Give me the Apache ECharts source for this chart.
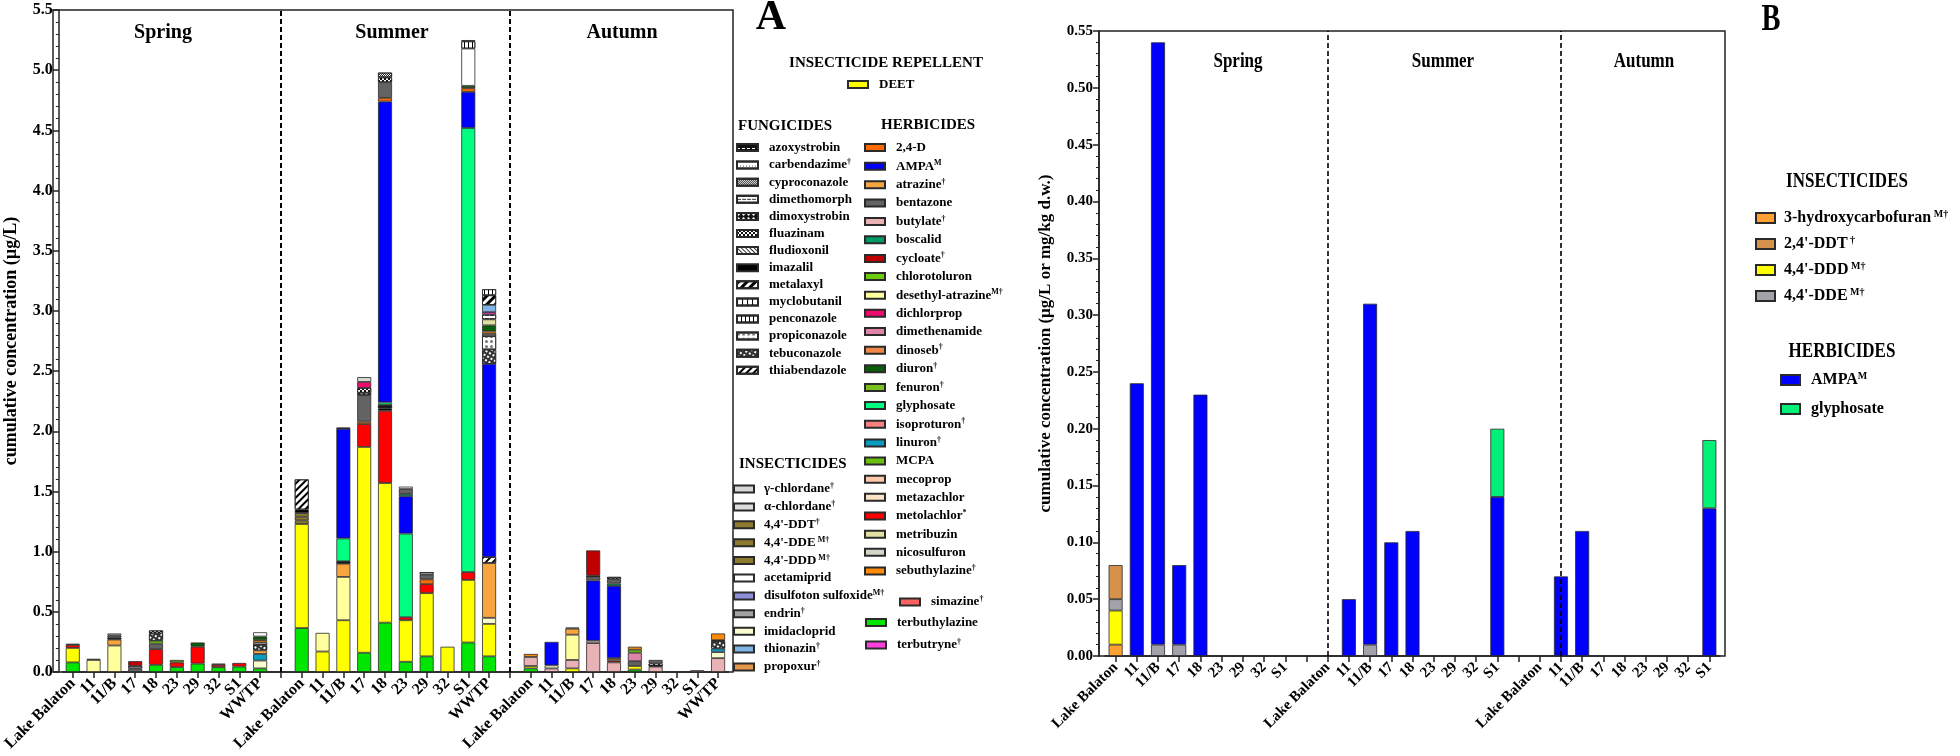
<!DOCTYPE html>
<html><head><meta charset="utf-8">
<script src="https://cdn.jsdelivr.net/npm/echarts/dist/echarts.min.js"></script>
<style>html,body{margin:0;padding:0;background:#fff}#c{width:1960px;height:756px}</style>
</head><body><div id="c"></div>
<script>
const FONT = '"Liberation Serif", "Times New Roman", serif';

// ---------- Panel A data (30 values: spring 10 | summer 10 | autumn 10) ----------
const sitesA = ['Lake Balaton','11','11/B','17','18','23','29','32','S1','WWTP'];
const terbuthylazine = [0.08,0,0,0,0.06,0.04,0.07,0.04,0.045,0.03, 0.365,0,0,0.16,0.41,0.085,0.13,0,0.245,0.13, 0.03,0,0,0,0,0.02,0,0,0,0];
const deet = [0.12,0,0,0,0,0,0,0,0,0, 0.865,0.17,0.43,1.71,1.16,0.345,0.525,0.21,0.52,0.27, 0.02,0,0.03,0,0,0.03,0,0,0,0];
const butylate = [0,0,0,0,0,0,0,0,0,0, 0,0,0,0,0,0,0,0,0,0, 0.075,0.03,0.07,0.24,0.08,0,0.045,0,0.015,0.115];
const desethylAtrazine = [0,0.10,0.22,0,0,0,0,0,0,0, 0,0.155,0.36,0,0,0,0,0,0,0, 0,0,0.21,0,0,0,0,0,0,0];
const imidacloprid = [0,0,0,0,0,0,0,0,0,0.065, 0,0,0,0,0,0,0,0,0,0.05, 0,0.025,0,0,0,0,0,0,0,0.05];
const linuron = [0,0,0,0,0,0,0,0,0,0.055, 0,0,0,0,0,0,0,0,0,0, 0,0,0,0,0,0,0,0,0,0.03];
const metolachlor = [0.025,0,0,0,0.13,0.04,0.14,0.02,0.03,0, 0,0,0,0.19,0.60,0.025,0.075,0,0.065,0, 0,0,0,0,0.015,0,0,0,0,0];
const atrazine = [0,0,0.05,0,0,0,0,0,0,0.03, 0,0,0.11,0,0,0,0,0,0,0.455, 0,0,0.05,0,0,0,0,0,0,0];
const metazachlor = [0,0,0,0,0,0,0,0,0,0, 0,0,0,0,0,0,0,0,0,0, 0,0,0.01,0.02,0,0,0,0,0,0];
const ddd44 = [0,0,0,0,0,0,0,0,0,0, 0.03,0,0,0,0,0,0,0,0,0, 0,0,0,0,0.02,0,0,0,0,0];
const dde44 = [0,0,0,0,0,0,0,0,0,0, 0.03,0,0,0,0,0,0,0,0,0, 0,0,0,0,0,0,0,0,0,0];
const ddt44 = [0,0,0,0,0,0,0,0,0,0, 0.03,0,0,0,0,0,0,0,0,0, 0,0,0,0,0,0,0,0,0,0];
const imazalil = [0,0,0,0,0,0,0,0,0,0, 0.03,0,0,0,0.02,0,0,0,0,0, 0,0,0,0,0,0,0,0,0,0];
const azoxystrobin = [0,0,0.015,0,0,0,0,0,0,0, 0,0,0.02,0,0.03,0,0,0,0,0, 0,0,0,0,0,0,0.025,0,0,0];
const thiabendazole = [0,0,0,0,0,0,0,0,0,0, 0.25,0,0,0,0,0,0,0,0,0.05, 0,0,0,0,0,0,0,0,0,0];
const glyphosate = [0,0,0,0,0,0,0,0,0,0, 0,0,0.19,0,0.02,0.695,0,0,3.69,0, 0,0,0,0,0,0,0,0,0,0];
const ampa = [0,0,0,0,0,0,0,0,0,0, 0,0,0.91,0,2.50,0.31,0,0,0.30,1.605, 0,0.195,0,0.50,0.60,0,0,0,0,0];
const boscalid = [0,0,0,0,0,0,0,0,0,0, 0,0,0,0,0,0.02,0,0,0,0, 0,0,0,0,0.02,0,0,0,0,0];
const d24 = [0,0,0,0,0,0,0,0,0,0, 0,0,0,0.02,0.03,0,0.04,0,0.03,0, 0,0,0,0,0,0,0,0,0,0];
const bentazone = [0,0,0.02,0.03,0.045,0,0,0.01,0,0, 0,0,0,0.22,0.13,0.04,0.04,0,0,0, 0,0,0,0.03,0.035,0.04,0.03,0,0,0];
const dimethenamide = [0,0,0,0,0,0,0,0,0,0, 0,0,0,0,0,0,0,0,0,0, 0,0,0,0,0,0.07,0,0,0,0];
const chlorotoluron = [0.01,0,0,0,0.025,0.02,0,0,0,0, 0,0,0,0,0,0,0,0,0,0, 0,0,0,0,0,0.025,0,0,0,0];
const tebuconazole = [0,0,0,0,0.06,0,0,0,0,0.045, 0,0,0,0,0,0,0,0,0,0.12, 0,0,0,0,0,0,0,0,0,0.06];
const propiconazole = [0,0,0,0,0,0,0,0,0,0.02, 0,0,0,0,0,0,0,0,0,0.11, 0,0,0,0,0,0,0,0,0,0.01];
const carbendazime = [0,0,0,0.02,0,0,0,0,0,0, 0,0,0.01,0,0,0,0.02,0,0,0.02, 0,0,0,0,0,0,0,0,0,0];
const dimoxystrobin = [0,0,0,0,0,0,0,0,0,0, 0,0,0,0.02,0,0,0,0,0,0, 0,0,0,0,0,0,0,0,0,0];
const fluazinam = [0,0,0,0,0.025,0,0,0,0,0, 0,0,0,0.04,0.04,0,0,0,0,0, 0,0,0,0.01,0.02,0,0,0,0,0];
const cyproconazole = [0,0,0,0,0,0,0,0,0,0, 0,0,0,0,0.04,0,0,0,0,0, 0,0,0,0,0,0,0,0,0,0];
const dichlorprop = [0,0,0,0,0,0,0,0,0,0, 0,0,0,0.05,0,0,0,0,0,0, 0,0,0,0,0,0,0,0,0,0];
const nicosulfuron = [0,0.01,0,0,0,0,0,0,0,0, 0,0,0,0.04,0,0,0,0,0,0, 0,0,0,0,0,0,0,0,0,0];
const sebuthylazine = [0,0,0,0,0,0,0,0,0,0.02, 0,0,0,0,0,0,0,0,0,0.02, 0.025,0,0,0,0,0.025,0,0,0,0.055];
const diuron = [0,0,0,0,0,0,0.035,0,0,0.03, 0,0,0,0,0,0,0,0,0.02,0.05, 0,0,0,0,0,0,0,0,0,0];
const metribuzin = [0,0,0,0,0,0,0,0,0,0, 0,0,0,0,0,0,0,0,0,0.05, 0,0,0,0,0,0,0,0,0,0];
const dimethomorph = [0,0,0,0,0,0,0,0,0,0, 0,0,0,0,0,0,0,0,0,0.04, 0,0,0,0,0,0,0,0,0,0];
const terbutryne = [0,0,0,0,0,0,0,0,0,0, 0,0,0,0,0,0,0,0,0,0.02, 0,0,0,0,0,0,0,0,0,0];
const thionazin = [0,0,0,0,0,0,0,0,0,0, 0,0,0,0,0,0,0,0,0,0.06, 0,0,0,0,0,0,0,0,0,0];
const acetamiprid = [0,0,0.015,0,0,0,0,0,0,0.035, 0,0,0,0,0,0.02,0,0,0.31,0, 0,0,0,0,0,0,0,0,0,0];
const metalaxyl = [0,0,0,0,0,0,0,0,0,0, 0,0,0,0,0,0,0,0,0,0.08, 0,0,0,0,0,0,0,0,0,0];
const penconazole = [0,0,0,0,0,0,0,0,0,0, 0,0,0,0,0,0,0,0,0.06,0.05, 0,0,0,0,0,0,0,0,0,0];
const cycloate = [0,0,0,0.04,0,0,0,0,0,0, 0,0,0,0,0,0,0,0,0.01,0, 0,0,0,0.21,0,0,0,0,0,0];
// compounds listed in the legend but not drawn in any bar
const notDetected = [];

// ---------- Panel B data (27 values: spring 9 | summer 9 | autumn 9) ----------
const sitesB = ['Lake Balaton','11','11/B','17','18','23','29','32','S1'];
const hydroxycarbofuranB = [0.01,0,0,0,0,0,0,0,0, 0,0,0,0,0,0,0,0,0, 0,0,0,0,0,0,0,0,0];
const ddd44B = [0.03,0,0,0,0,0,0,0,0, 0,0,0,0,0,0,0,0,0, 0,0,0,0,0,0,0,0,0];
const dde44B = [0.01,0,0.01,0.01,0,0,0,0,0, 0,0,0.01,0,0,0,0,0,0, 0,0,0,0,0,0,0,0,0];
const ddt24B = [0.03,0,0,0,0,0,0,0,0, 0,0,0,0,0,0,0,0,0, 0,0,0,0,0,0,0,0,0];
const ampaB = [0,0.24,0.53,0.07,0.23,0,0,0,0, 0,0.05,0.30,0.10,0.11,0,0,0,0.14, 0,0.07,0.11,0,0,0,0,0,0.13];
const glyphosateB = [0,0,0,0,0,0,0,0,0, 0,0,0,0,0,0,0,0,0.06, 0,0,0,0,0,0,0,0,0.06];

// tick labels / legend groups
const yTicksA = {min: 0, max: 5.5, step: 0.5};
const yTicksB = {min: 0, max: 0.55, step: 0.05};
const fungicideNames = ['azoxystrobin','carbendazime','cyproconazole','dimethomorph','dimoxystrobin','fluazinam','fludioxonil','imazalil','metalaxyl','myclobutanil','penconazole','propiconazole','tebuconazole','thiabendazole'];
const herbicideNames1 = ['2,4-D','AMPA','atrazine','bentazone','butylate','boscalid','cycloate','chlorotoluron','desethyl-atrazine','dichlorprop','dimethenamide','dinoseb','diuron','fenuron','glyphosate','isoproturon','linuron','MCPA','mecoprop','metazachlor','metolachlor','metribuzin','nicosulfuron','sebuthylazine'];
const herbicideNames2 = ['simazine'];
const herbicideNames3 = ['terbuthylazine','terbutryne'];
const insecticideNamesA = ['γ-chlordane','α-chlordane',"4,4'-DDT","4,4'-DDE","4,4'-DDD",'acetamiprid','disulfoton sulfoxide','endrin','imidacloprid','thionazin','propoxur'];
const insecticideNamesB = ['B:3-hydroxycarbofuran',"B:2,4'-DDT","B:4,4'-DDD","B:4,4'-DDE"];
const herbicideNamesB = ['B:AMPA','B:glyphosate'];
const supText = {
  'carbendazime':'†','AMPA':'M','atrazine':'†','butylate':'†','cycloate':'†','desethyl-atrazine':'M†',
  'dinoseb':'†','diuron':'†','fenuron':'†','isoproturon':'†','linuron':'†','metolachlor':'*',
  'sebuthylazine':'†','simazine':'†','terbutryne':'†','γ-chlordane':'†','α-chlordane':'†',
  "4,4'-DDT":'†',"4,4'-DDE":' M†',"4,4'-DDD":' M†','disulfoton sulfoxide':'M†','endrin':'†',
  'thionazin':'†','propoxur':'†','3-hydroxycarbofuran':' M†',"2,4'-DDT":' †'
};

// ---------- stacking order (bottom -> top) ----------
const stackA = [
  ['terbuthylazine', terbuthylazine], ['DEET', deet], ['butylate', butylate], ['desethyl-atrazine', desethylAtrazine],
  ['imidacloprid', imidacloprid], ['linuron', linuron], ['metolachlor', metolachlor], ['atrazine', atrazine],
  ['metazachlor', metazachlor], ["4,4'-DDD", ddd44], ["4,4'-DDE", dde44], ["4,4'-DDT", ddt44], ['imazalil', imazalil],
  ['azoxystrobin', azoxystrobin], ['thiabendazole', thiabendazole], ['glyphosate', glyphosate], ['AMPA', ampa],
  ['boscalid', boscalid], ['2,4-D', d24], ['bentazone', bentazone], ['dimethenamide', dimethenamide],
  ['chlorotoluron', chlorotoluron], ['tebuconazole', tebuconazole], ['propiconazole', propiconazole],
  ['carbendazime', carbendazime], ['dimoxystrobin', dimoxystrobin], ['fluazinam', fluazinam],
  ['cyproconazole', cyproconazole], ['dichlorprop', dichlorprop], ['nicosulfuron', nicosulfuron],
  ['sebuthylazine', sebuthylazine], ['diuron', diuron], ['metribuzin', metribuzin], ['dimethomorph', dimethomorph],
  ['terbutryne', terbutryne], ['thionazin', thionazin], ['acetamiprid', acetamiprid], ['metalaxyl', metalaxyl],
  ['penconazole', penconazole], ['cycloate', cycloate],
  ['fludioxonil', notDetected], ['myclobutanil', notDetected], ['dinoseb', notDetected], ['fenuron', notDetected],
  ['isoproturon', notDetected], ['MCPA', notDetected], ['mecoprop', notDetected], ['simazine', notDetected],
  ['γ-chlordane', notDetected], ['α-chlordane', notDetected], ['disulfoton sulfoxide', notDetected],
  ['endrin', notDetected], ['propoxur', notDetected]
];
const stackB = [
  ['B:3-hydroxycarbofuran', hydroxycarbofuranB], ["B:4,4'-DDD", ddd44B], ["B:4,4'-DDE", dde44B],
  ["B:2,4'-DDT", ddt24B], ['B:AMPA', ampaB], ['B:glyphosate', glyphosateB]
];

// ---------- styles ----------
const P = Math.PI;
const styleA = {
  'terbuthylazine':{c:'#00E600'}, 'DEET':{c:'#FFFF00'}, 'butylate':{c:'#E9B3B6'}, 'desethyl-atrazine':{c:'#FFFF9E'},
  'imidacloprid':{c:'#F8FCCF'}, 'linuron':{c:'#0A9CC0'}, 'metolachlor':{c:'#FF0000'}, 'atrazine':{c:'#F8A540'},
  'metazachlor':{c:'#FBE3C8'}, "4,4'-DDD":{c:'#8E7B2E'}, "4,4'-DDE":{c:'#8E7B2E'}, "4,4'-DDT":{c:'#8E7B2E'},
  'imazalil':{c:'#000000'}, 'glyphosate':{c:'#00FF80'}, 'AMPA':{c:'#0000FF'}, 'boscalid':{c:'#00996A'},
  '2,4-D':{c:'#FF6A00'}, 'bentazone':{c:'#636363'}, 'dimethenamide':{c:'#E083A8'}, 'chlorotoluron':{c:'#6CCB0A'},
  'dichlorprop':{c:'#EE0A6E'}, 'nicosulfuron':{c:'#D4D6C8'}, 'sebuthylazine':{c:'#FF8A0A'}, 'diuron':{c:'#0A5E0A'},
  'metribuzin':{c:'#E2E0A2'}, 'terbutryne':{c:'#FF40E0'}, 'thionazin':{c:'#80B4E4'}, 'acetamiprid':{c:'#FFFFFF'},
  'cycloate':{c:'#C00000'}, 'dinoseb':{c:'#F08848'}, 'fenuron':{c:'#7CC020'}, 'isoproturon':{c:'#F88080'},
  'MCPA':{c:'#6AC010'}, 'mecoprop':{c:'#FFC8A8'}, 'simazine':{c:'#FF6060'},
  'γ-chlordane':{c:'#D6D6D6'}, 'α-chlordane':{c:'#DCDCDC'}, 'disulfoton sulfoxide':{c:'#8E8EDA'},
  'endrin':{c:'#A2A2A2'}, 'propoxur':{c:'#E4964A'},
  'azoxystrobin':{c:'#111', d:{color:'#fff', dashArrayX:[[3,2]], dashArrayY:[1,3]}},
  'carbendazime':{c:'#fff', d:{color:'#666', dashArrayX:[[1,2]], dashArrayY:[1,3]}},
  'cyproconazole':{c:'#fff', d:{color:'#222', dashArrayX:[[1,1],[0,1,1,0]], dashArrayY:[1,0]}},
  'dimethomorph':{c:'#fff', d:{color:'#333', dashArrayX:[[4,1]], dashArrayY:[1,2]}},
  'dimoxystrobin':{c:'#111', d:{color:'#fff', symbol:'diamond', dashArrayX:[[3,2]], dashArrayY:[3,1]}},
  'fluazinam':{c:'#fff', d:{color:'#111', dashArrayX:[[2,2],[0,2,2,0]], dashArrayY:[2,0]}},
  'fludioxonil':{c:'#fff', d:{color:'#333', dashArrayX:[[1,0]], dashArrayY:[1,2], rotation:P/4}},
  'metalaxyl':{c:'#fff', d:{color:'#000', dashArrayX:[[1,0]], dashArrayY:[3,3], rotation:-P/4}},
  'myclobutanil':{c:'#fff', d:{color:'#000', dashArrayX:[[1,4]], dashArrayY:[10,0]}},
  'penconazole':{c:'#fff', d:{color:'#000', dashArrayX:[[1,3]], dashArrayY:[10,0]}},
  'propiconazole':{c:'#fff', d:{color:'#777', symbol:'circle', dashArrayX:[[3,2]], dashArrayY:[3,2]}},
  'tebuconazole':{c:'#333', d:{color:'#fff', dashArrayX:[[2,2]], dashArrayY:[2,2], rotation:P/6}},
  'thiabendazole':{c:'#fff', d:{color:'#000', dashArrayX:[[1,0]], dashArrayY:[2,3], rotation:-P/4}}
};
const styleB = {
  'B:3-hydroxycarbofuran':'#FFA030', "B:2,4'-DDT":'#D6914A', "B:4,4'-DDD":'#FFFF00',
  "B:4,4'-DDE":'#A2A2AA', 'B:AMPA':'#0000FF', 'B:glyphosate':'#00F078'
};

// ---------- build ----------
function withGapsA(arr){ const v = arr.map(x => x ? x : null); return [...v.slice(0,10), null, ...v.slice(10,20), null, ...v.slice(20,30)]; }
function withGapsB(arr){ const v = arr.map(x => x ? x : null); return [...v.slice(0,9), null, ...v.slice(9,18), null, ...v.slice(18,27)]; }
const catsA = [...sitesA, '', ...sitesA, '', ...sitesA];
const catsB = [...sitesB, '', ...sitesB, '', ...sitesB];

const series = [];
stackA.forEach(([name, arr], i) => {
  const st = styleA[name] || {c:'#ccc'};
  const s = {
    name, type:'bar', stack:'A', xAxisIndex:0, yAxisIndex:0, barWidth:14,
    data: arr.length ? withGapsA(arr) : [],
    itemStyle:{color:st.c, borderColor:'#2a2a2a', borderWidth:0.8},
    emphasis:{disabled:true}
  };
  if (st.d) s.itemStyle.decal = Object.assign({symbol:'rect', symbolSize:1, symbolKeepAspect:false}, st.d);
  if (i === 0) s.markLine = {silent:true, symbol:['none','none'], label:{show:false},
    lineStyle:{type:[5,3], color:'#000', width:2}, data:[{xAxis:10},{xAxis:21}]};
  series.push(s);
});
stackB.forEach(([name, arr]) => {
  const s = {
    name, type:'bar', stack:'B', xAxisIndex:2, yAxisIndex:2, barWidth:14,
    data: withGapsB(arr),
    itemStyle:{color:styleB[name], borderColor:'#2a2a2a', borderWidth:0.8},
    emphasis:{disabled:true}
  };
  if (name === 'B:AMPA') s.markLine = {silent:true, symbol:['none','none'], label:{show:false},
    lineStyle:{type:[5,3], color:'#000', width:1.6}, data:[{xAxis:10},{xAxis:21}]};
  series.push(s);
});

function fmt(name){
  const base = name.replace(/^B:/,'');
  const s = supText[base];
  return '{n|' + base + '}' + (s ? '{s|' + s + '}' : '');
}
function mkLegend(names, left, top, gap, fs, lh, iw, ih, pad){
  return {
    data:names, orient:'vertical', left, top, padding:0, itemGap:gap, itemWidth:iw, itemHeight:ih,
    icon:'rect', selectedMode:false, formatter:fmt,
    textStyle:{rich:{
      n:{fontSize:fs, fontWeight:'bold', fontFamily:FONT, lineHeight:lh, color:'#000', padding:[0,0,0,pad]},
      s:{fontSize:Math.round(fs*0.62), fontWeight:'bold', fontFamily:FONT, lineHeight:Math.round(fs*0.7), verticalAlign:'top', color:'#000'}
    }}
  };
}
function txt(t, x, y, size, align, sx){
  return {type:'text', x, y, scaleX: sx || 1, silent:true, style:{text:t, font:'bold ' + size + 'px ' + FONT,
    fill:'#000', textAlign: align || 'center', textVerticalAlign:'middle'}};
}

const axisLine = {show:true, lineStyle:{color:'#222', width:1.5}};
const option = {
  animation:false,
  backgroundColor:'#fff',
  grid:[
    {left:56.5, top:10, width:672, height:662},
    {left:53, top:10, width:680, height:662, show:true, borderColor:'#222', borderWidth:1.5, backgroundColor:'transparent'},
    {left:1105, top:31, width:615, height:625},
    {left:1099, top:31, width:626, height:625, show:true, borderColor:'#222', borderWidth:1.5, backgroundColor:'transparent'}
  ],
  xAxis:[
    {gridIndex:0, type:'category', data:catsA, axisLine, axisTick:{show:true, alignWithLabel:true, length:6, lineStyle:{color:'#222', width:1.5}},
     axisLabel:{interval:0, rotate:45, margin:9, fontSize:16, fontWeight:'bold', fontFamily:FONT, color:'#000'}},
    {gridIndex:1, type:'value', show:false},
    {gridIndex:2, type:'category', data:catsB, axisLine, axisTick:{show:true, alignWithLabel:true, length:6, lineStyle:{color:'#222', width:1.5}},
     axisLabel:{interval:0, rotate:45, margin:9, fontSize:15, fontWeight:'bold', fontFamily:FONT, color:'#000'}},
    {gridIndex:3, type:'value', show:false}
  ],
  yAxis:[
    {gridIndex:0, type:'value', min:yTicksA.min, max:yTicksA.max, interval:yTicksA.step, offset:3.5,
     axisLine, axisTick:{show:true, length:6, lineStyle:{color:'#222', width:1.5}},
     minorTick:{show:true, splitNumber:5, length:3, lineStyle:{color:'#222', width:1}},
     splitLine:{show:false},
     axisLabel:{margin:6, fontSize:16, fontWeight:'bold', fontFamily:FONT, color:'#000', formatter:v => v.toFixed(1)},
     name:'cumulative concentration (µg/L)', nameLocation:'middle', nameGap:38,
     nameTextStyle:{fontSize:18, fontWeight:'bold', fontFamily:FONT, color:'#000'}},
    {gridIndex:1, type:'value', show:false},
    {gridIndex:2, type:'value', min:yTicksB.min, max:yTicksB.max, interval:yTicksB.step, offset:6,
     axisLine, axisTick:{show:true, length:6, lineStyle:{color:'#222', width:1.5}},
     minorTick:{show:true, splitNumber:5, length:3, lineStyle:{color:'#222', width:1}},
     splitLine:{show:false},
     axisLabel:{margin:6, fontSize:15, fontWeight:'bold', fontFamily:FONT, color:'#000', formatter:v => v.toFixed(2)},
     name:'cumulative concentration (µg/L or mg/kg d.w.)', nameLocation:'middle', nameGap:45,
     nameTextStyle:{fontSize:17, fontWeight:'bold', fontFamily:FONT, color:'#000'}},
    {gridIndex:3, type:'value', show:false}
  ],
  legend:[
    mkLegend(['DEET'], 847, 78, 4, 13, 14, 20, 7, 6),
    mkLegend(fungicideNames, 736, 141, 4.1, 13, 14, 21, 7, 6),
    mkLegend(herbicideNames1, 864, 141, 5.15, 13, 14, 20, 7, 6),
    mkLegend(herbicideNames2, 899, 595, 5, 13, 14, 20, 7, 6),
    mkLegend(herbicideNames3, 865, 616, 9, 13, 14, 20, 7, 6),
    mkLegend(insecticideNamesA, 733, 482, 4.4, 13, 14, 20, 7, 5),
    mkLegend(insecticideNamesB, 1755, 209, 9, 16, 18, 19, 10, 4),
    mkLegend(herbicideNamesB, 1780, 371, 13, 16, 18, 19, 10, 6)
  ],
  graphic:[
    txt('Spring', 163, 33, 20), txt('Summer', 392, 33, 20), txt('Autumn', 622, 33, 20),
    txt('A', 771, 18, 42),
    txt('INSECTICIDE REPELLENT', 886, 63, 15),
    txt('FUNGICIDES', 738, 126, 15, 'left'),
    txt('HERBICIDES', 881, 125, 15, 'left'),
    txt('INSECTICIDES', 739, 464, 15, 'left'),
    txt('Spring', 1238, 62, 20, 'center', 0.85),
    txt('Summer', 1443, 62, 20, 'center', 0.85),
    txt('Autumn', 1644, 62, 20, 'center', 0.85),
    txt('B', 1771, 20, 38, 'center', 0.75),
    txt('INSECTICIDES', 1847, 182, 20, 'center', 0.85),
    txt('HERBICIDES', 1842, 352, 20, 'center', 0.85)
  ],
  series
};
const chart = echarts.init(document.getElementById('c'), null, {renderer:'canvas'});
chart.setOption(option);
</script></body></html>
